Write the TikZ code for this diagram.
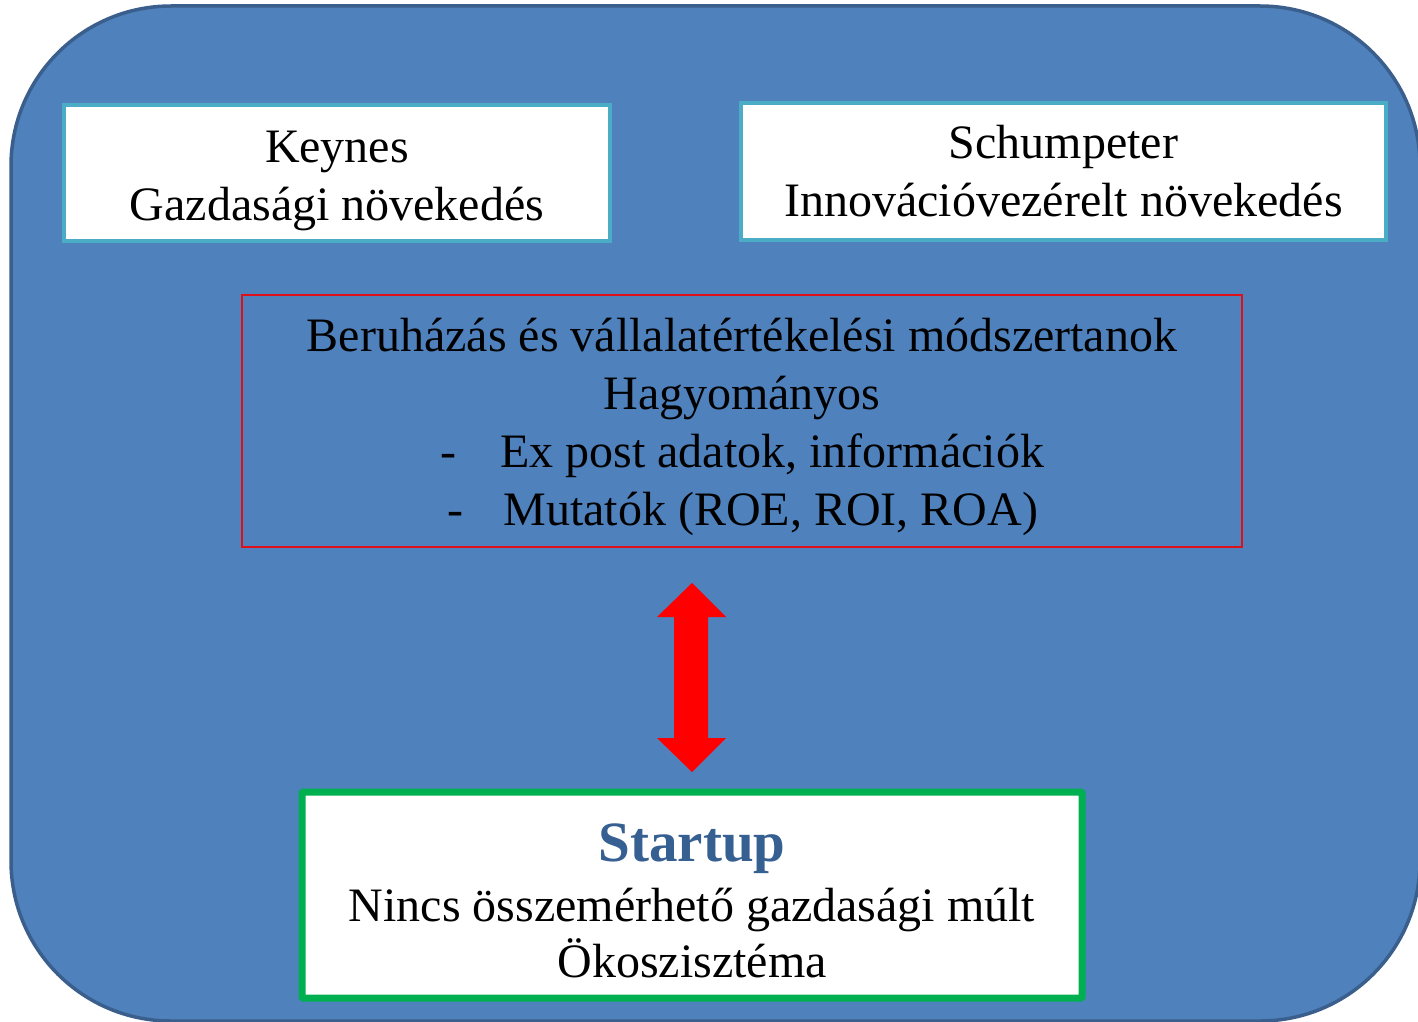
\documentclass[tikz,border=0pt]{standalone}
\usepackage{fontspec}
\setmainfont{Liberation Serif}
\definecolor{bgblue}{HTML}{4F81BD}
\definecolor{bgline}{HTML}{3A5F8D}
\definecolor{cyanline}{HTML}{4BACC6}
\definecolor{boxred}{HTML}{E0101A}
\definecolor{boxgreen}{HTML}{00B050}
\definecolor{startblue}{HTML}{366092}
\begin{document}
\begin{tikzpicture}[x=1pt,y=-1pt,
  txt/.style={font=\fontsize{48}{58}\selectfont, align=center, inner sep=0pt},
  theorybox/.style={txt, draw=cyanline, line width=4.5pt, fill=white},
  methodbox/.style={txt, draw=boxred, line width=2pt},
  startbox/.style={txt, font=\fontsize{48}{56}\selectfont, draw=boxgreen, line width=7pt, fill=white, rounded corners=1pt}]
\useasboundingbox (0,0) rectangle (1418,1022);
\draw[fill=bgblue, draw=bgline, line width=3.5pt, rounded corners=160pt] (11,6) rectangle (1420,1021);
\node[theorybox, minimum width=546pt, minimum height=136pt] (keynes) at (337,173)
  {\rule{0pt}{47pt}Keynes\\Gazdasági növekedés};
\node[theorybox, minimum width=645pt, minimum height=137pt] (schump) at (1063.5,171.5)
  {Schumpeter\\Innovációvezérelt növekedés};
\node[methodbox, minimum width=1000pt, minimum height=252pt] (method) at (742,421)
  {\rule{0pt}{45pt}Beruházás és vállalatértékelési módszertanok\\Hagyományos\\
   \makebox[60pt][l]{\hspace{0pt}-}Ex post adatok, információk\\
   \makebox[58pt][l]{\hspace{2pt}-}Mutatók (ROE, ROI, ROA)};
\node[startbox, minimum width=780pt, minimum height=206pt] (startup) at (692,895)
  {\rule{0pt}{50pt}{\fontsize{57}{64}\selectfont\bfseries\color{startblue}Startup}\\[4pt]Nincs összemérhető gazdasági múlt\\Ökoszisztéma};
\fill[red] (692,583) -- (726,617) -- (708,617) -- (708,738) -- (726,738) -- (692,772)
  -- (657,738) -- (674,738) -- (674,617) -- (657,617) -- cycle;
\end{tikzpicture}
\end{document}
